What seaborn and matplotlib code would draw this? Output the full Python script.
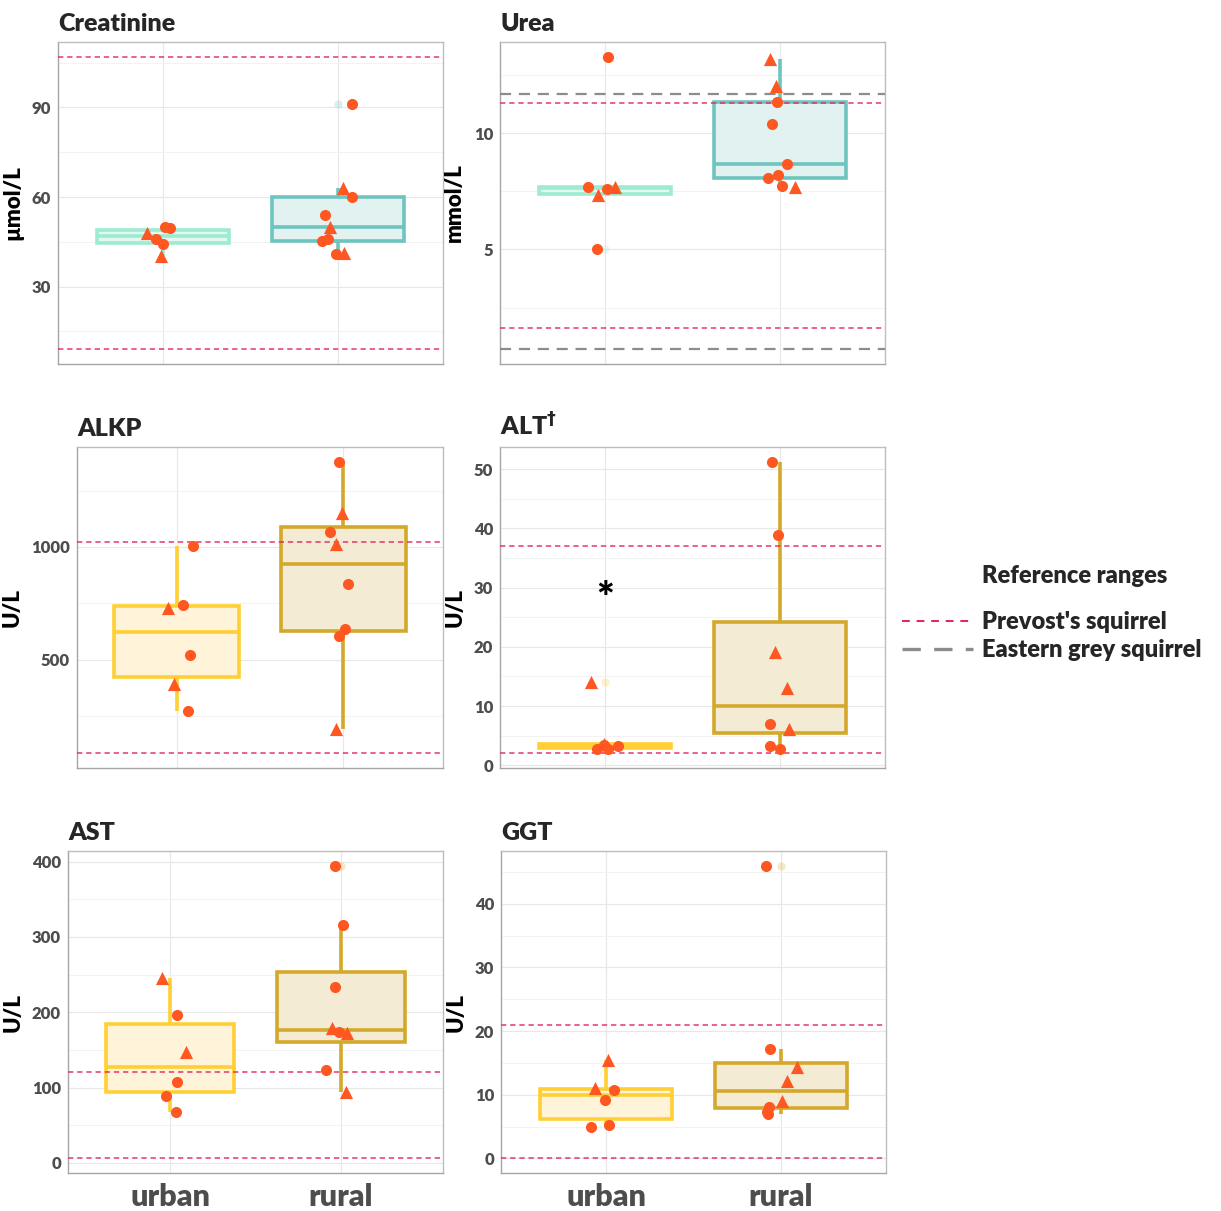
import matplotlib.pyplot as plt
import seaborn as sns
import pandas as pd
import numpy as np
from matplotlib.lines import Line2D
from matplotlib.ticker import MultipleLocator, AutoMinorLocator
from matplotlib.transforms import offset_copy

sns.set_style("white")
plt.rcParams['font.family'] = ['Lato', 'DejaVu Sans']
plt.rcParams['font.weight'] = 'heavy'
plt.rcParams['axes.titleweight'] = 'heavy'
plt.rcParams['axes.labelweight'] = 'heavy'

# ----------------------------------------------------------
# Data
# sex F is drawn as a circle, M as a triangle
# ----------------------------------------------------------
sites = ["urban", "rural"]
analytes = ["Creatinine", "Urea", "ALKP", "ALT", "AST", "GGT"]
units = ["µmol/L", "mmol/L", "U/L", "U/L", "U/L", "U/L"]

creat_urban = [50.0, 49.5, 47.8, 45.8, 44.2, 40.1]
creat_urban_sex = ["F", "F", "M", "F", "F", "M"]
creat_rural = [91.0, 63.1, 60.1, 54.0, 50.0, 45.8, 45.4, 41.3, 40.9]
creat_rural_sex = ["F", "M", "F", "F", "M", "F", "F", "M", "F"]

urea_urban = [13.3, 7.69, 7.60, 7.67, 7.34, 5.0]
urea_urban_sex = ["F", "F", "F", "M", "M", "F"]
urea_rural = [13.2, 12.04, 11.33, 10.4, 8.7, 8.19, 8.06, 7.75, 7.67]
urea_rural_sex = ["M", "M", "F", "F", "F", "F", "F", "F", "M"]

alkp_urban = [1006, 741, 728, 521, 390, 273]
alkp_urban_sex = ["F", "F", "M", "F", "M", "F"]
alkp_rural = [1379, 1153, 1065, 1012, 836, 635, 605, 191]
alkp_rural_sex = ["F", "M", "F", "M", "F", "F", "F", "M"]

alt_urban = [14.0, 3.66, 3.49, 3.25, 2.75, 2.7]
alt_urban_sex = ["M", "M", "F", "F", "F", "F"]
alt_rural = [51.3, 38.9, 19.2, 13.1, 6.9, 6.2, 3.25, 2.75]
alt_rural_sex = ["F", "F", "M", "M", "F", "M", "F", "F"]

ast_urban = [246, 196.4, 147.4, 108, 89, 68]
ast_urban_sex = ["M", "F", "M", "F", "F", "F"]
ast_rural = [394.7, 316, 233.5, 179.3, 174, 173, 123.6, 93.6]
ast_rural_sex = ["F", "F", "F", "M", "F", "M", "F", "M"]

ggt_urban = [15.4, 11.0, 10.7, 9.1, 5.2, 4.9]
ggt_urban_sex = ["M", "M", "F", "F", "F", "F"]
ggt_rural = [46.0, 17.2, 14.3, 12.2, 9.06, 8.1, 7.25, 7.0]
ggt_rural_sex = ["F", "F", "M", "M", "M", "F", "F", "F"]

# reference ranges (nan = not shown)
prevost_low = [9, 1.6, 84, 2, 6, 0]
prevost_high = [107, 11.3, 1020, 37, 121, 21]
eastern_low = [np.nan, 0.7, np.nan, np.nan, np.nan, np.nan]
eastern_high = [np.nan, 11.7, np.nan, np.nan, np.nan, np.nan]

# significance marker on ALT (urban)
alt_star_y = 30

# ----------------------------------------------------------
# long table
# ----------------------------------------------------------
series = {
    "Creatinine": (creat_urban, creat_urban_sex, creat_rural, creat_rural_sex),
    "Urea": (urea_urban, urea_urban_sex, urea_rural, urea_rural_sex),
    "ALKP": (alkp_urban, alkp_urban_sex, alkp_rural, alkp_rural_sex),
    "ALT": (alt_urban, alt_urban_sex, alt_rural, alt_rural_sex),
    "AST": (ast_urban, ast_urban_sex, ast_rural, ast_rural_sex),
    "GGT": (ggt_urban, ggt_urban_sex, ggt_rural, ggt_rural_sex),
}
rows = []
for name, (uv, us, rv, rs) in series.items():
    rows += [(name, "urban", v, s) for v, s in zip(uv, us)]
    rows += [(name, "rural", v, s) for v, s in zip(rv, rs)]
df = pd.DataFrame(rows, columns=["analyte", "site", "value", "sex"])

# ----------------------------------------------------------
# styling
# ----------------------------------------------------------
teal = {"urban": ("#E3F8F1", "#9DEBD1"), "rural": ("#E2F2F1", "#6EC4BE")}
gold = {"urban": ("#FFF3D9", "#FFCF33"), "rural": ("#F3EBD4", "#D4A82A")}
point_color = "#FF5722"
prevost_color = "#E0245E"
eastern_color = "#8C8C8C"
tick_steps = [30, 5, 500, 10, 100, 10]

W, H = 1221, 1211
# axes boxes in pixels: left, top, right, bottom
boxes = [
    (58, 42, 443, 364), (500, 42, 885, 364),
    (77, 447, 443, 768), (500, 447, 885, 768),
    (68, 851, 443, 1173), (501, 851, 886, 1173),
]

fig = plt.figure(figsize=(W / 100, H / 100), dpi=100)
np.random.seed(3)

for i, name in enumerate(analytes):
    l, t, r, b = boxes[i]
    ax = fig.add_axes([l / W, 1 - b / H, (r - l) / W, (b - t) / H])
    sub = df[df["analyte"] == name]
    pal = teal if i < 2 else gold

    for site in sites:
        fill, edge = pal[site]
        sns.boxplot(data=sub[sub["site"] == site], x="site", y="value", order=sites,
                    color=fill, linecolor=edge, saturation=1, linewidth=2.6, width=0.75,
                    showcaps=False, fliersize=6,
                    flierprops=dict(marker="o", markerfacecolor=edge, markeredgecolor="none", alpha=0.25),
                    ax=ax)

    # reference ranges
    for y in (prevost_low[i], prevost_high[i]):
        ax.axhline(y, color=prevost_color, lw=1.1, linestyle=(0, (3.5, 2.5)), alpha=0.9, zorder=3)
    for y in (eastern_low[i], eastern_high[i]):
        if not np.isnan(y):
            ax.axhline(y, color=eastern_color, lw=1.6, linestyle=(0, (5, 3.5)), zorder=3)

    # individual animals
    for sex, marker, size in (("F", "o", 8), ("M", "^", 9.5)):
        sns.stripplot(data=sub[sub["sex"] == sex], x="site", y="value", order=sites,
                      color=point_color, marker=marker, size=size, jitter=0.1,
                      linewidth=0, zorder=4, ax=ax)

    if name == "ALT":
        star_tr = offset_copy(ax.transData, fig=fig, y=-12, units="dots")
        ax.text(0, alt_star_y, "*", ha="center", va="center", fontsize=30,
                color="black", zorder=5, transform=star_tr)
        ax.set_title(r"ALT$^{\dagger}$", loc="left", fontsize=18, pad=8)
    else:
        ax.set_title(name, loc="left", fontsize=18, pad=8)

    # limits like ggplot (5% expansion of data + reference lines)
    vals = list(sub["value"]) + [prevost_low[i], prevost_high[i]]
    vals += [v for v in (eastern_low[i], eastern_high[i]) if not np.isnan(v)]
    lo, hi = min(vals), max(vals)
    pad = (hi - lo) * 0.05
    ax.set_ylim(lo - pad, hi + pad)
    ax.set_xlim(-0.6, 1.6)

    ax.yaxis.set_major_locator(MultipleLocator(tick_steps[i]))
    ax.yaxis.set_minor_locator(AutoMinorLocator(2))
    ax.grid(True, which="major", color="#E8E8E8", lw=0.9, zorder=0)
    ax.grid(True, which="minor", axis="y", color="#F2F2F2", lw=0.7, zorder=0)
    ax.set_axisbelow(True)

    ax.set_xlabel("")
    ax.set_ylabel(units[i], fontsize=16, color="black", labelpad=6)
    ax.tick_params(axis="both", which="major", length=3, width=0.8, color="#9E9E9E",
                   labelsize=12, labelcolor="#4D4D4D", pad=2)
    ax.tick_params(axis="y", which="minor", length=0)
    if i >= 4:
        ax.tick_params(axis="x", labelsize=22, pad=4)
    else:
        ax.tick_params(axis="x", labelbottom=False)
    for side, sp in ax.spines.items():
        sp.set_visible(True)
        sp.set_color("#A6A6A6" if side in ("left", "bottom") else "#BDBDBD")
        sp.set_linewidth(1.0)

# ----------------------------------------------------------
# legend
# ----------------------------------------------------------
handles = [
    Line2D([], [], color=prevost_color, lw=1.4, linestyle=(0, (4, 3.5))),
    Line2D([], [], color=eastern_color, lw=2.4, linestyle=(0, (5.5, 4))),
]
fig.text(982 / W, 1 - 576 / H, "Reference ranges", fontsize=17, va="center", ha="left")
fig.legend(handles, ["Prevost's squirrel", "Eastern grey squirrel"],
           loc="center left", bbox_to_anchor=(902 / W, 1 - 636 / H),
           frameon=False, fontsize=17, handlelength=3.0, handletextpad=0.4,
           labelspacing=0.25, borderpad=0, borderaxespad=0)

fig.savefig("out.png", dpi=100)
